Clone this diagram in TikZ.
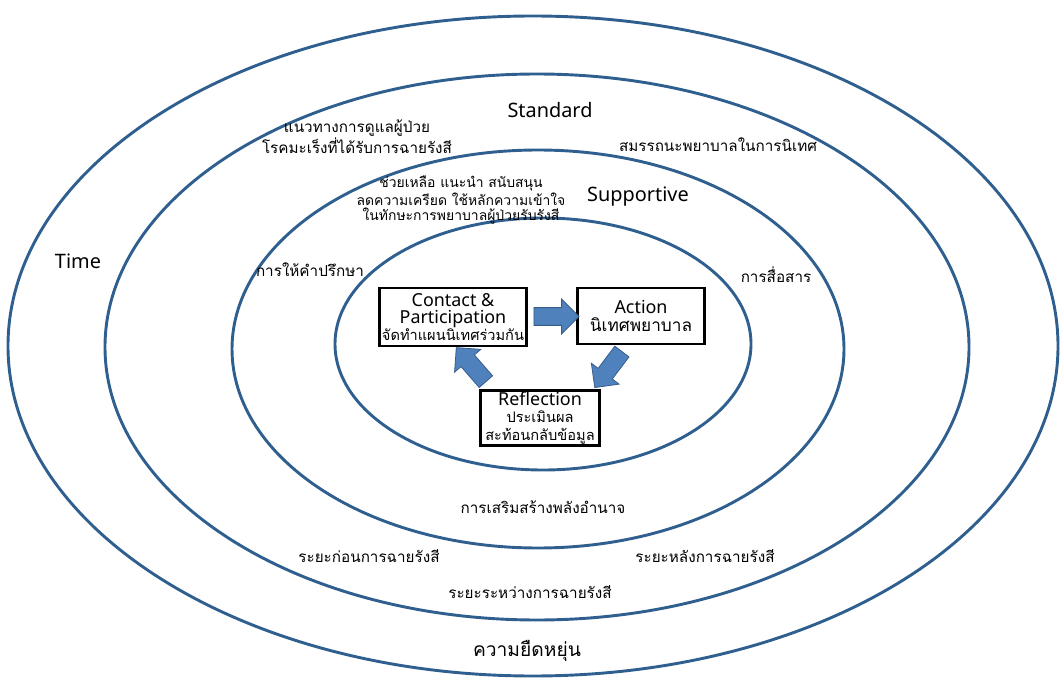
\documentclass[tikz,border=0pt]{standalone}
\usepackage{fontspec}
\setmainfont{Noto Sans}
\newfontfamily\thai[Script=Thai]{Loma}
\usetikzlibrary{shapes.arrows,calc,positioning}
\definecolor{ringblue}{HTML}{2F5F8F}
\definecolor{arrowfill}{HTML}{4F81BD}
\definecolor{arrowline}{HTML}{385D8A}
\tikzset{
  ring/.style={draw=ringblue,line width=2.2pt},
  stepbox/.style={draw,line width=1.8pt,fill=white,align=center,inner sep=1pt,
    font=\fontsize{13.5}{13}\selectfont},
  bigarrow/.style={single arrow,fill=arrowfill,draw=arrowline,line width=0.6pt,
    minimum height=34pt,inner sep=6.4pt,single arrow head extend=6.4pt},
  lbl/.style={align=center,inner sep=1pt,font=\fontsize{15}{17}\selectfont},
  thlbl/.style={align=center,inner sep=1pt,font=\thai\fontsize{11.5}{13}\selectfont},
  thsmall/.style={align=center,inner sep=1pt,font=\thai\fontsize{10.5}{11.5}\selectfont}
}
\newcommand\thbox[1]{{\thai\fontsize{11}{12}\selectfont #1}}

\begin{document}
\begin{tikzpicture}[x=0.0265cm,y=0.0265cm]
 \useasboundingbox (0,0) rectangle (1062,-678);
 % rings
 \draw[ring] (533,-346) ellipse [x radius=525, y radius=330];
 \draw[ring] (537,-347) ellipse [x radius=432, y radius=273];
 \draw[ring] (538,-349) ellipse [x radius=306, y radius=199];
 \draw[ring] (543,-344) ellipse [x radius=208, y radius=126];

 % cycle boxes
 \node[stepbox,minimum width=147*0.0265cm,minimum height=58*0.0265cm] (contact) at (453,-317)
   {Contact \&\\Participation\\\thbox{จัดทำแผนนิเทศร่วมกัน}};
 \node[stepbox,minimum width=127*0.0265cm,minimum height=56*0.0265cm] (action) at (641,-316)
   {Action\\{\thai\fontsize{13}{13}\selectfont นิเทศพยาบาล}};
 \node[stepbox,minimum width=119*0.0265cm,minimum height=55*0.0265cm] (reflect) at (540,-418)
   {Reflection\\\thbox{ประเมินผล}\\\thbox{สะท้อนกลับข้อมูล}};

 % block arrows
 \node[bigarrow] (a1) at ($(contact.east)!0.5!(action.west)$) {};
 \node[bigarrow,rotate=233] (a2) at (611,-366) {};
 \node[bigarrow,rotate=131] (a3) at (474,-368) {};

 % labels
 \node[lbl] (standard) at (550,-110) {Standard};
 \node[lbl] (supportive) at (638,-197) {Supportive};
 \node[lbl] (time) at (78,-261) {Time};
 \node[thlbl] (guide) at (357,-137) {แนวทางการดูแลผู้ป่วย\\โรคมะเร็งที่ได้รับการฉายรังสี};
 \node[thlbl] (compet) at (718,-145) {สมรรถนะพยาบาลในการนิเทศ};
 \node[thsmall] (help) at (461,-200) {ช่วยเหลือ แนะนำ สนับสนุน\\ลดความเครียด ใช้หลักความเข้าใจ\\ในทักษะการพยาบาลผู้ป่วยรับรังสี};
 \node[thlbl] (counsel) at (310,-270) {การให้คำปรึกษา};
 \node[thlbl] (comm) at (776,-275) {การสื่อสาร};
 \node[thlbl] (empower) at (543,-507) {การเสริมสร้างพลังอำนาจ};
 \node[thlbl] (before) at (369,-556) {ระยะก่อนการฉายรังสี};
 \node[thlbl] (after) at (705,-556) {ระยะหลังการฉายรังสี};
 \node[thlbl] (during) at (530,-592) {ระยะระหว่างการฉายรังสี};
 \node[thlbl,font=\thai\fontsize{14.5}{16}\selectfont] (flex) at (527,-651) {ความยืดหยุ่น};
\end{tikzpicture}
\end{document}
